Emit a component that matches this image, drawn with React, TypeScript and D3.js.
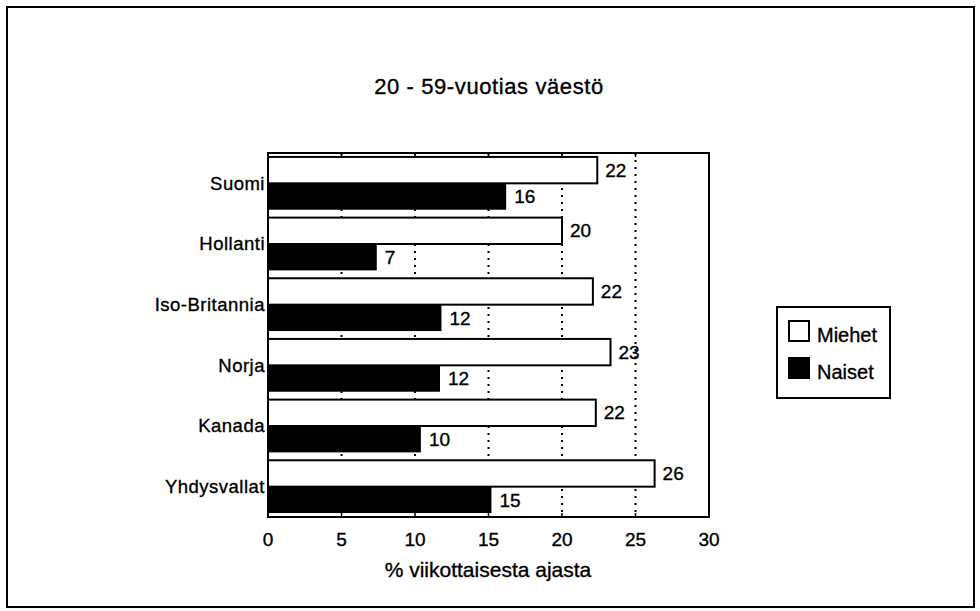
import React from "react";
import * as d3 from "d3";

const categories = ["Suomi", "Hollanti", "Iso-Britannia", "Norja", "Kanada", "Yhdysvallat"];
const miehet = [22.4, 20.0, 22.1, 23.3, 22.3, 26.3];
const naiset = [16.2, 7.4, 11.8, 11.7, 10.4, 15.2];
const miehetLabels = ["22", "20", "22", "23", "22", "26"];
const naisetLabels = ["16", "7", "12", "12", "10", "15"];
const xTicks = [0, 5, 10, 15, 20, 25, 30];
const gridTicks = [5, 10, 15, 20, 25];
const seriesNames = ["Miehet", "Naiset"];
const title = "20 - 59-vuotias väestö";
const xTitle = "% viikottaisesta ajasta";

const W = 980;
const H = 611;
const plot = { left: 268, right: 709, top: 153, bottom: 517 };
const FONT = "'Liberation Sans', Arial, Helvetica, sans-serif";
const TS = { stroke: "#000", strokeWidth: 0.35 };

export default function App() {
  const x = d3.scaleLinear().domain([0, 30]).range([plot.left, plot.right]);
  const y = d3.scaleBand<string>().domain(categories).range([plot.top, plot.bottom]).padding(0);
  const bw = y.bandwidth();
  const pad = bw * 0.065;
  const barH = (bw - 2 * pad) / 2;

  return (
    <svg
      width={W}
      height={H}
      style={{ position: "absolute", left: 0, top: 0, display: "block", background: "#fff" }}
      fontFamily={FONT}
    >
      <rect x={0} y={0} width={W} height={H} fill="#fff" />
      {/* outer frame */}
      <rect x={7} y={7} width={967} height={600} fill="none" stroke="#000" strokeWidth={2} />

      {/* title */}
      <text x={489} y={94} textAnchor="middle" fontSize={22} letterSpacing={0.6} fill="#000" {...TS}>
        {title}
      </text>

      {/* gridlines */}
      {gridTicks.map((t) => (
        <line
          key={"g" + t}
          x1={x(t)}
          x2={x(t)}
          y1={plot.top}
          y2={plot.bottom}
          stroke="#000"
          strokeWidth={2}
          strokeDasharray="2,5"
        />
      ))}

      {/* bars */}
      {categories.map((c, i) => {
        const y0 = (y(c) as number) + pad;
        return (
          <g key={c}>
            <rect
              x={x(0)}
              y={y0}
              width={x(miehet[i]) - x(0)}
              height={barH}
              fill="#fff"
              stroke="#000"
              strokeWidth={2}
            />
            <rect x={x(0)} y={y0 + barH} width={x(naiset[i]) - x(0)} height={barH} fill="#000" />
            <text
              x={x(miehet[i]) + 8}
              y={y0 + barH / 2}
              dy="0.35em"
              fontSize={19}
              fill="#000"
              {...TS}
            >
              {miehetLabels[i]}
            </text>
            <text
              x={x(naiset[i]) + 8}
              y={y0 + barH * 1.5}
              dy="0.35em"
              fontSize={19}
              fill="#000"
              {...TS}
            >
              {naisetLabels[i]}
            </text>
          </g>
        );
      })}

      {/* plot frame */}
      <rect
        x={plot.left}
        y={plot.top}
        width={plot.right - plot.left}
        height={plot.bottom - plot.top}
        fill="none"
        stroke="#000"
        strokeWidth={2}
      />

      {/* ticks */}
      {xTicks.map((t) => (
        <g key={"t" + t}>
          <line x1={x(t)} x2={x(t)} y1={plot.top} y2={plot.top + 4} stroke="#000" strokeWidth={1.5} />
          <line x1={x(t)} x2={x(t)} y1={plot.bottom} y2={plot.bottom - 4} stroke="#000" strokeWidth={1.5} />
          <text x={x(t)} y={546} textAnchor="middle" fontSize={19} fill="#000" {...TS}>
            {t}
          </text>
        </g>
      ))}

      {/* category labels */}
      {categories.map((c) => (
        <text
          key={"l" + c}
          x={plot.left - 3}
          y={(y(c) as number) + bw / 2}
          dy="0.35em"
          textAnchor="end"
          fontSize={18.5}
          letterSpacing={0.5}
          fill="#000"
          {...TS}
        >
          {c}
        </text>
      ))}

      {/* x title */}
      <text x={488} y={577} textAnchor="middle" fontSize={21} fill="#000" {...TS}>
        {xTitle}
      </text>

      {/* legend */}
      <rect x={777} y={307} width={113} height={91} fill="#fff" stroke="#000" strokeWidth={2} />
      {seriesNames.map((s, i) => (
        <g key={s}>
          <rect
            x={789}
            y={321 + i * 37}
            width={20}
            height={20}
            fill={i === 0 ? "#fff" : "#000"}
            stroke="#000"
            strokeWidth={2}
          />
          <text x={817} y={342 + i * 37} fontSize={20} fill="#000" {...TS}>
            {s}
          </text>
        </g>
      ))}
    </svg>
  );
}
